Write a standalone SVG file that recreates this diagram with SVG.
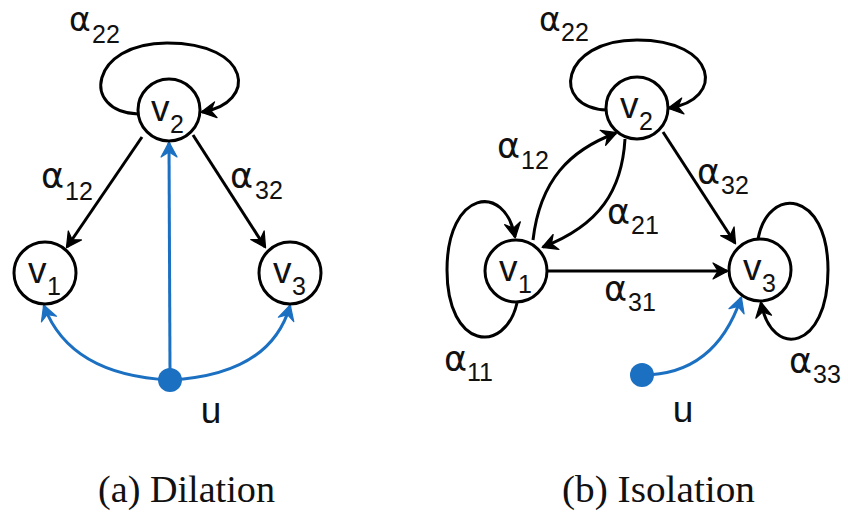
<svg xmlns="http://www.w3.org/2000/svg" width="848" height="514" viewBox="0 0 848 514">
<style>
.e{fill:none;stroke:#000;stroke-width:3}
.b{fill:none;stroke:#1b70c2;stroke-width:3}
.n{fill:#fff;stroke:#000;stroke-width:3}
.t{font-family:"Liberation Sans",Arial,sans-serif;fill:#111}
.g{font-family:"DejaVu Sans","Liberation Sans",sans-serif;fill:#111;font-size:35px}
.gt{font-size:33px}
.v{font-size:37px}
.s{font-family:"Liberation Sans",Arial,sans-serif;font-size:25px}
.u{font-size:37px}
.cap{font-family:"Liberation Serif","Times New Roman",serif;font-size:37px;fill:#111}
</style>
<defs>
<marker id="ak" viewBox="-16 -10 22 20" refX="0" refY="0" markerWidth="22" markerHeight="20" orient="auto" markerUnits="userSpaceOnUse" overflow="visible">
<path d="M1,0 L-14,-8 L-9,0 L-14,8 z" fill="#000" stroke="#000" stroke-width="1.2" stroke-linejoin="round"/>
</marker>
<marker id="abl" viewBox="-16 -10 22 20" refX="0" refY="0" markerWidth="22" markerHeight="20" orient="auto" markerUnits="userSpaceOnUse" overflow="visible">
<path d="M1,0 L-14,-8 L-9,0 L-14,8 z" fill="#1b70c2" stroke="#1b70c2" stroke-width="1.2" stroke-linejoin="round"/>
</marker>
</defs>

<g id="connectors">
<path class="e" d="M138,114 C80,112 90,43 167,43 C252,43 258,103 202,112" marker-end="url(#ak)"/>
<path class="e" d="M142,137 L67,247" marker-end="url(#ak)"/>
<path class="e" d="M193,135 L265,247" marker-end="url(#ak)"/>
<path class="b" d="M170,370 L169,143" marker-end="url(#abl)"/>
<path class="b" d="M170,380 Q70,375 44,306" marker-end="url(#abl)"/>
<path class="b" d="M170,380 Q270,375 290,306" marker-end="url(#abl)"/>
<path class="e" d="M607,110 C550,108 560,40 637,40 C718,40 725,100 669,108" marker-end="url(#ak)"/>
<path class="e" d="M533,240 C540,180 570,150 616,133" marker-end="url(#ak)"/>
<path class="e" d="M625,139 C622,190 600,225 543,247" marker-end="url(#ak)"/>
<path class="e" d="M663,132 L735,243" marker-end="url(#ak)"/>
<path class="e" d="M548,271 L727,271" marker-end="url(#ak)"/>
<path class="e" d="M517,303 C505,355 447,350 447,270 C447,190 505,182 515,237" marker-end="url(#ak)"/>
<path class="e" d="M758,239 C768,185 828,190 828,270 C828,350 772,360 761,303" marker-end="url(#ak)"/>
<path class="b" d="M642,375 Q715,375 741,298" marker-end="url(#abl)"/>
</g>

<g id="a-v2"><circle class="n" cx="169" cy="110" r="31"/><text class="t v" x="151" y="121">v<tspan class="s" x="170" y="133">2</tspan></text></g>
<g id="a-v1"><circle class="n" cx="45" cy="273" r="31"/><text class="t v" x="28" y="283">v<tspan class="s" x="47" y="295">1</tspan></text></g>
<g id="a-v3"><circle class="n" cx="290" cy="273" r="31"/><text class="t v" x="273" y="283">v<tspan class="s" x="292" y="295">3</tspan></text></g>
<g id="a-u"><circle cx="170" cy="380" r="12" fill="#1b70c2"/><text class="t u" x="211" y="423" text-anchor="middle">u</text></g>

<g id="b-v2"><circle class="n" cx="637" cy="108" r="31"/><text class="t v" x="620" y="118">v<tspan class="s" x="639" y="130">2</tspan></text></g>
<g id="b-v1"><circle class="n" cx="516" cy="271" r="31"/><text class="t v" x="499" y="281">v<tspan class="s" x="518" y="293">1</tspan></text></g>
<g id="b-v3"><circle class="n" cx="760" cy="270" r="31"/><text class="t v" x="743" y="280">v<tspan class="s" x="762" y="292">3</tspan></text></g>
<g id="b-u"><circle cx="642" cy="375" r="12" fill="#1b70c2"/><text class="t u" x="683" y="422" text-anchor="middle">u</text></g>

<g id="labels">
<text class="g gt" x="69" y="31">α<tspan class="s" x="92" y="43">22</tspan></text>
<text class="g" x="41" y="188">α<tspan class="s" x="65" y="200">12</tspan></text>
<text class="g" x="230" y="188">α<tspan class="s" x="255" y="199">32</tspan></text>
<text class="g gt" x="539" y="31">α<tspan class="s" x="561" y="41">22</tspan></text>
<text class="g" x="497" y="158">α<tspan class="s" x="521" y="169">12</tspan></text>
<text class="g" x="697" y="184">α<tspan class="s" x="721" y="194">32</tspan></text>
<text class="g" x="607" y="224">α<tspan class="s" x="631" y="234">21</tspan></text>
<text class="g" x="604" y="301">α<tspan class="s" x="628" y="311">31</tspan></text>
<text class="g" x="444" y="371">α<tspan class="s" x="467" y="381">11</tspan></text>
<text class="g" x="789" y="373">α<tspan class="s" x="813" y="383">33</tspan></text>
</g>

<text class="cap" x="98" y="502" textLength="177" lengthAdjust="spacingAndGlyphs">(a) Dilation</text>
<text class="cap" x="562" y="502" textLength="193" lengthAdjust="spacingAndGlyphs">(b) Isolation</text>
</svg>
